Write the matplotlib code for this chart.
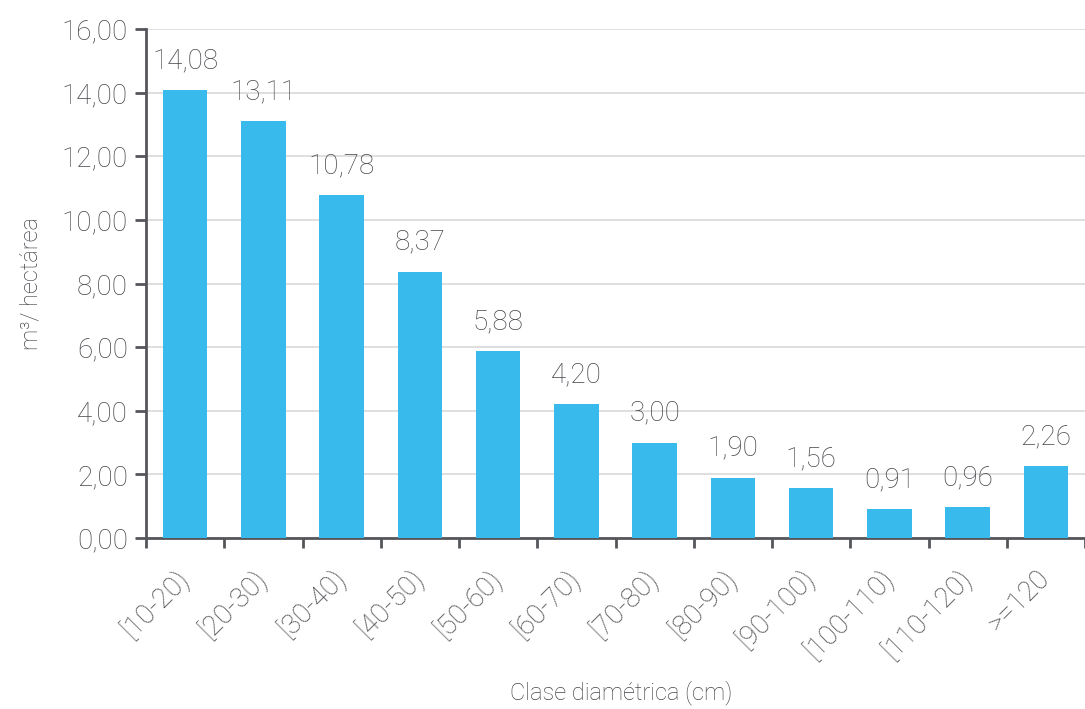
import numpy as np
import matplotlib.pyplot as plt

# Volumen por clase diamétrica
clases = ['[10-20)', '[20-30)', '[30-40)', '[40-50)', '[50-60)', '[60-70)',
          '[70-80)', '[80-90)', '[90-100)', '[100-110)', '[110-120)', '>=120']
volumen = [14.08, 13.11, 10.78, 8.37, 5.88, 4.20, 3.00, 1.90, 1.56, 0.91, 0.96, 2.26]

gris = '#55565b'
texto = '#45464b'
azul = '#38BBEC'

plt.rcParams['font.family'] = ['Roboto', 'DejaVu Sans']
plt.rcParams['font.weight'] = 'light'
plt.rcParams['axes.labelweight'] = 'light'

fig = plt.figure(figsize=(10.85, 7.09), dpi=100)
ax = fig.add_axes([146 / 1085, 1 - 538 / 709, 939 / 1085, 509 / 709])

x = np.arange(len(clases))
ax.bar(x, volumen, width=0.57, color=azul, zorder=3)

for xi, v in zip(x, volumen):
    ax.text(xi, v + 0.5, f'{v:.2f}'.replace('.', ','), ha='center', va='bottom',
            fontsize=20, color=texto, fontweight='light')

ax.set_ylim(0, 16)
ax.set_xlim(-0.5, -0.5 + 939 / 79)
yt = np.arange(0, 17, 2)
ax.set_yticks(yt)
ax.set_yticklabels([f'{t:.2f}'.replace('.', ',') for t in yt])
ax.yaxis.grid(True, color='#d9d9d9', linewidth=1.2, zorder=0)
ax.set_axisbelow(True)

# marcas entre categorías, etiquetas centradas
ax.set_xticks(np.arange(-0.5, len(clases)), minor=False)
ax.set_xticklabels([])
ax.set_xticks(x, minor=True)
ax.set_xticklabels(clases, minor=True, rotation=45, ha='right', va='center',
                   rotation_mode='anchor', fontsize=20, color=texto)
ax.tick_params(axis='x', which='minor', length=0, pad=26)
ax.tick_params(axis='x', which='major', length=7, width=2, color=gris)
ax.tick_params(axis='y', length=8, width=2, color=gris, labelsize=20,
               labelcolor=texto, pad=5)

for s in ['top', 'right']:
    ax.spines[s].set_visible(False)
for s in ['left', 'bottom']:
    ax.spines[s].set_color(gris)
    ax.spines[s].set_linewidth(2)

ax.set_ylabel('m³/ hectárea', fontsize=17, color=texto, labelpad=14)
ax.set_xlabel('Clase diamétrica (cm)', fontsize=17, color=texto)
ax.xaxis.set_label_coords(0.506, (538 - 680) / 509)

fig.savefig('out.png', dpi=100)
